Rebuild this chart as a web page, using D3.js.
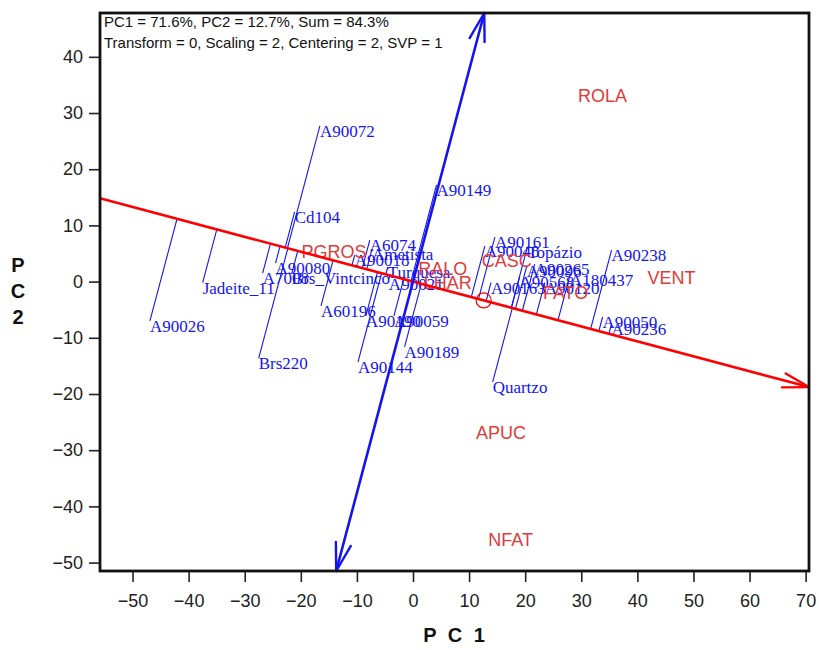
<!DOCTYPE html>
<html>
<head>
<meta charset="utf-8">
<script src="https://cdn.jsdelivr.net/npm/d3@7"></script>
<style>
  html, body { margin: 0; padding: 0; background: #fff; }
  svg { display: block; }
</style>
</head>
<body>
<svg id="chart" width="819" height="650"></svg>
<script>
// PC1/PC2 biplot: genotype scores, trait markers and the average-trait axis

const xTicks = [-50, -40, -30, -20, -10, 0, 10, 20, 30, 40, 50, 60, 70];
const yTicks = [40, 30, 20, 10, 0, -10, -20, -30, -40, -50];

// average trait coordinate (defines the abscissa direction)
const avgTrait = [12.6, -3.35];

// genotypes: names and PC1 / PC2 scores
const genoNames = [
  "A90072", "Cd104", "A90149", "A90026", "Jadeite_11", "Brs220", "A90144", "A60196",
  "A90080", "A7008", "Brs_Vintcinco", "A6074", "Ametista", "A90018", "Turquesa", "A90021",
  "A90190", "A90059", "A90189", "A90161", "A90048", "Topázio", "A90238", "A90265",
  "A90096", "A90568", "A180437", "A90120", "A90163", "A90050", "A90236", "Quartzo"
];
const genoPC1 = [
  -16.6, -21.1, 4.2, -46.9, -37.5, -27.5, -9.8, -16.4,
  -24.5, -26.8, -21.6, -7.7, -7.3, -10.4, -4.5, -4.3,
  -8.4, -3.4, -1.5, 14.6, 12.8, 20.4, 35.4, 21.7,
  20.3, 19.0, 28.0, 23.5, 13.9, 33.8, 35.4, 14.2
];
const genoPC2 = [
  27.7, 12.4, 17.2, -7.0, -0.2, -13.6, -14.3, -4.3,
  3.3, 1.5, 1.5, 7.4, 5.8, 4.7, 2.6, 0.5,
  -6.1, -6.1, -11.6, 7.9, 6.3, 6.2, 5.6, 3.1,
  2.8, 0.8, 1.2, -0.2, -0.2, -6.3, -7.5, -17.9
];

// traits: names and PC1 / PC2 scores
const traitNames = ["ROLA", "VENT", "PGROS", "RALO", "LHAR", "CASC", "FATO", "APUC", "NFAT"];
const traitPC1 = [33.8, 46.1, -14.1, 5.3, 6.2, 16.7, 27.2, 15.7, 17.4];
const traitPC2 = [33.2, 0.8, 5.4, 2.4, -0.2, 3.7, -2.0, -26.9, -45.9];

const infoLines = [
  "PC1 = 71.6%, PC2 = 12.7%, Sum = 84.3%",
  "Transform = 0, Scaling = 2, Centering = 2, SVP = 1"
];

const xDomain = [-55.8, 70.6];
const yDomain = [-51.5, 47.8];

const svg = d3.select("#chart");
const box = { left: 100, right: 809, top: 13, bottom: 571 };

const x = d3.scaleLinear().domain(xDomain).range([box.left, box.right]);
const y = d3.scaleLinear().domain(yDomain).range([box.bottom, box.top]);

const BLUE = "#1414f0";
const RED_LINE = "#ff0000";
const RED_TEXT = "#e03a3a";

// unit vector of the average-trait axis and its perpendicular
const len = Math.hypot(avgTrait[0], avgTrait[1]);
const u = [avgTrait[0] / len, avgTrait[1] / len];
const v = [-u[1], u[0]];
const vv = v[1] < 0 ? [-v[0], -v[1]] : v;

// axes
const xAxis = d3.axisBottom(x).tickValues(xTicks).tickSize(11).tickPadding(6).tickFormat(d3.format("d"));
const yAxis = d3.axisLeft(y).tickValues(yTicks).tickSize(11).tickPadding(6).tickFormat(d3.format("d"));

const gx = svg.append("g").attr("transform", `translate(0,${box.bottom})`).call(xAxis);
const gy = svg.append("g").attr("transform", `translate(${box.left},0)`).call(yAxis);
[gx, gy].forEach(g => {
  g.select(".domain").remove();
  g.selectAll(".tick line").attr("stroke", "#222").attr("stroke-width", 1.6);
  g.selectAll(".tick text")
    .attr("fill", "#222")
    .style("font-family", "'Liberation Sans', Arial, sans-serif")
    .style("font-size", "18px");
});
gx.selectAll(".tick text").attr("dy", "1.05em");

// axis titles
svg.append("text")
  .attr("x", (box.left + box.right) / 2 + 1)
  .attr("y", 642)
  .attr("text-anchor", "middle")
  .style("font-family", "'Liberation Sans', Arial, sans-serif")
  .style("font-size", "20px")
  .style("font-weight", "bold")
  .style("letter-spacing", "3px")
  .attr("fill", "#111")
  .text("P C 1");

["P", "C", "2"].forEach((ch, i) => {
  svg.append("text")
    .attr("x", 18)
    .attr("y", 272 + i * 26)
    .attr("text-anchor", "middle")
    .style("font-family", "'Liberation Sans', Arial, sans-serif")
    .style("font-size", "20px")
    .style("font-weight", "bold")
    .attr("fill", "#111")
    .text(ch);
});

// projection of each genotype onto the average-trait axis
const genoData = genoNames.map((name, i) => {
  const px = genoPC1[i], py = genoPC2[i];
  const t = px * u[0] + py * u[1];
  return { name, px, py, fx: t * u[0], fy: t * u[1] };
});

const plot = svg.append("g");

plot.selectAll("line.proj")
  .data(genoData)
  .join("line")
  .attr("class", "proj")
  .attr("x1", d => x(d.fx)).attr("y1", d => y(d.fy))
  .attr("x2", d => x(d.px)).attr("y2", d => y(d.py))
  .attr("stroke", BLUE)
  .attr("stroke-width", 1.1);

// genotype labels
plot.selectAll("text.geno")
  .data(genoData)
  .join("text")
  .attr("class", "geno")
  .attr("x", d => x(d.px))
  .attr("y", d => y(d.py) + 11)
  .attr("fill", BLUE)
  .style("font-family", "'Liberation Serif', 'Times New Roman', serif")
  .style("font-size", "17px")
  .text(d => d.name);

// trait labels
plot.selectAll("text.trait")
  .data(traitNames.map((name, i) => ({ name, px: traitPC1[i], py: traitPC2[i] })))
  .join("text")
  .attr("class", "trait")
  .attr("x", d => x(d.px))
  .attr("y", d => y(d.py) + 6.5)
  .attr("text-anchor", "middle")
  .attr("fill", RED_TEXT)
  .style("font-family", "'Liberation Sans', Arial, sans-serif")
  .style("font-size", "18px")
  .text(d => d.name);

// average-trait marker
plot.append("circle")
  .attr("cx", x(avgTrait[0]))
  .attr("cy", y(avgTrait[1]))
  .attr("r", 7.5)
  .attr("fill", "none")
  .attr("stroke", RED_LINE)
  .attr("stroke-width", 1.2);

// open arrowhead at a pixel tip pointing away from a pixel base
function arrowHead(g, tip, from, color, size, spread) {
  const ang = Math.atan2(from[1] - tip[1], from[0] - tip[0]);
  [-spread, spread].forEach(s => {
    g.append("line")
      .attr("x1", tip[0]).attr("y1", tip[1])
      .attr("x2", tip[0] + size * Math.cos(ang + s))
      .attr("y2", tip[1] + size * Math.sin(ang + s))
      .attr("stroke", color)
      .attr("stroke-width", 2.4)
      .attr("stroke-linecap", "round");
  });
}

// abscissa: through the origin along the average-trait direction
const sA = xDomain[0] / u[0], sB = xDomain[1] / u[0];
const redA = [x(sA * u[0]), y(sA * u[1])];
const redB = [x(sB * u[0]), y(sB * u[1])];
plot.append("line")
  .attr("x1", redA[0]).attr("y1", redA[1])
  .attr("x2", redB[0]).attr("y2", redB[1])
  .attr("stroke", RED_LINE)
  .attr("stroke-width", 2.6);
arrowHead(plot, redB, redA, RED_LINE, 27, 0.27);

// ordinate: perpendicular through the origin, arrows at both ends
const tTop = yDomain[1] / vv[1], tBot = yDomain[0] / vv[1];
const blueTop = [x(tTop * vv[0]), y(tTop * vv[1])];
const blueBot = [x(tBot * vv[0]), y(tBot * vv[1])];
plot.append("line")
  .attr("x1", blueBot[0]).attr("y1", blueBot[1])
  .attr("x2", blueTop[0]).attr("y2", blueTop[1])
  .attr("stroke", BLUE)
  .attr("stroke-width", 2.6);
arrowHead(plot, blueTop, blueBot, BLUE, 29, 0.27);
arrowHead(plot, blueBot, blueTop, BLUE, 29, 0.27);

// info text
infoLines.forEach((line, i) => {
  svg.append("text")
    .attr("x", 104)
    .attr("y", 27 + i * 21)
    .attr("fill", "#111")
    .style("font-family", "'Liberation Sans', Arial, sans-serif")
    .style("font-size", "15px")
    .text(line);
});

// frame
svg.append("rect")
  .attr("x", box.left).attr("y", box.top)
  .attr("width", box.right - box.left)
  .attr("height", box.bottom - box.top)
  .attr("fill", "none")
  .attr("stroke", "#111")
  .attr("stroke-width", 2.8);
</script>
</body>
</html>
